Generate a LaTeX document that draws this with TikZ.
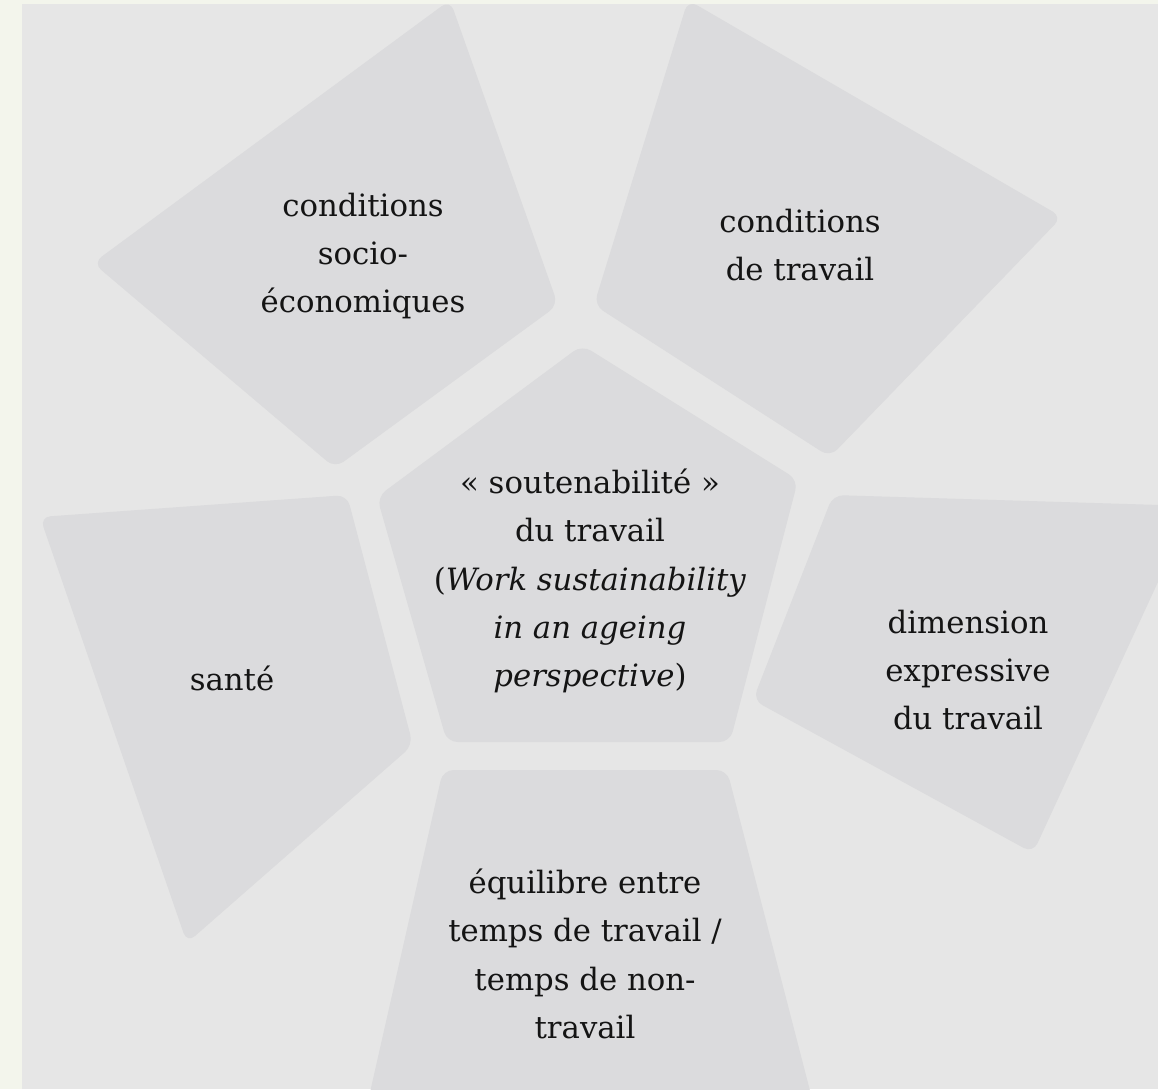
\documentclass[tikz,border=0pt]{standalone}
\usepackage{fontspec}
\setmainfont{DejaVu Serif}
\usepackage{tikz}
\definecolor{backgray}{HTML}{E6E6E6}
\definecolor{petalgray}{HTML}{DBDBDD}
\definecolor{edgegreen}{HTML}{F3F5EC}
\definecolor{inkgray}{HTML}{141414}
\tikzstyle{petal}=[fill=petalgray, rounded corners=6pt]
\tikzstyle{factor}=[align=center, text=inkgray, font=\fontsize{17.5}{27.5}\selectfont]

\begin{document}
\begin{tikzpicture}[x=0.02cm, y=-0.02cm]
		\useasboundingbox (0,0) rectangle (1158,1089);
		\fill [edgegreen] (0,0) rectangle (1158,1089);
		\fill [backgray] (22,4) rectangle (1158,1089);
		
		\begin{scope}
			\clip (22,4) rectangle (1158,1089);
			\fill [petal] (450,0) -- (558,305) -- (335,468) -- (93,263) -- cycle;
			\fill [petal] (688,0) -- (1062,217) -- (830,457) -- (594,305) -- cycle;
			\fill [petal] (40,517) -- (347,495) -- (413,745) -- (187,943) -- cycle;
			\fill [petal] (833,495) -- (1193,506) -- (1033,853) -- (753,700) -- cycle;
			\fill [petal] (443,770) -- (727,770) -- (815,1110) -- (366,1110) -- cycle;
			\fill [petal] (582,345) -- (798,480) -- (730,742) -- (447,742) -- (377,497) -- cycle;
		\end{scope}
		
		\node (socio) [factor] at (363,256) {conditions\\socio-\\économiques};
		\node (travail) [factor] at (800,245) {conditions\\de travail};
		\node (sante) [factor] at (232,678) {santé};
		\node (expressive) [factor] at (968,670) {dimension\\expressive\\du travail};
		\node (equilibre) [factor] at (585,954) {équilibre entre\\temps de travail /\\temps de non-\\travail};
		\node (soutenabilite) [factor] at (590,581) {« soutenabilité »\\du travail\\(\textit{Work sustainability}\\\textit{in an ageing}\\\textit{perspective})};
	\end{tikzpicture}
\end{document}
